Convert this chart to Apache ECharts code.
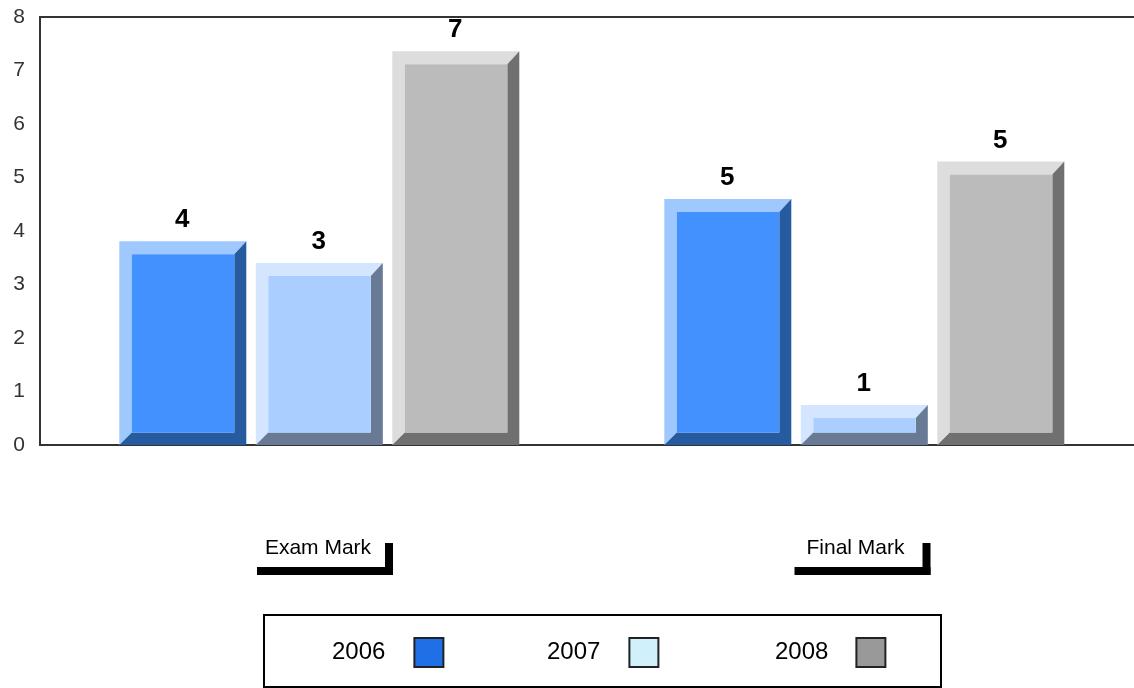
<!DOCTYPE html>
<html><head><meta charset="utf-8">
<style>html,body{margin:0;padding:0;background:#fff}#c{width:1134px;height:688px}</style>
<script src="https://cdn.jsdelivr.net/npm/echarts@6/dist/echarts.min.js"></script>
</head><body><div id="c"></div>
<script>
const categories = ['Exam Mark', 'Final Mark'];
const years = ['2006', '2007', '2008'];
const values2006 = [3.81, 4.6];
const values2007 = [3.4, 0.75];
const values2008 = [7.36, 5.3];
const labels2006 = ['4', '5'];
const labels2007 = ['3', '1'];
const labels2008 = ['7', '5'];
const yTicks = [0, 1, 2, 3, 4, 5, 6, 7, 8];

const FONT = '"Liberation Sans", Arial, sans-serif';
const faces = [
  { front: '#4291FF', light: '#9FC8FF', dark: '#275B9F' },
  { front: '#AACEFF', light: '#D4E6FF', dark: '#687A96' },
  { front: '#BBBBBB', light: '#DDDDDD', dark: '#707070' }
];
const legendFill = ['#1F6FE6', '#D0F0FC', '#999999'];
const groupShift = [5.8, 3.8];
const barStep = 136.5, barWidth = 127, bevel = 12.5;

function barSeries(name, idx, values, labels) {
  const f = faces[idx];
  return {
    type: 'custom', name, xAxisIndex: 0, yAxisIndex: 0,
    itemStyle: { color: legendFill[idx] },
    data: values.map((v, i) => [i, v, labels[i]]),
    encode: { x: 0, y: 1 },
    clip: false,
    renderItem(params, api) {
      const i = api.value(0);
      const top = api.coord([i, api.value(1)])[1];
      const base = api.coord([i, 0])[1];
      const cx = api.coord([i, 0])[0] + groupShift[i] + (idx - 1) * barStep;
      const l = cx - barWidth / 2, r = cx + barWidth / 2;
      const il = l + bevel, ir = r - bevel + 0.5, it = top + bevel + 0.5, ib = base - bevel;
      const poly = (pts, fill) => ({ type: 'polygon', shape: { points: pts }, style: { fill } });
      return {
        type: 'group',
        children: [
          poly([[l, top], [r, top], [ir, it], [il, it], [il, ib], [l, base]], f.light),
          poly([[r, top], [r, base], [l, base], [il, ib], [ir, ib], [ir, it]], f.dark),
          { type: 'rect', shape: { x: il, y: it, width: ir - il, height: ib - it }, style: { fill: f.front } },
          { type: 'text', x: cx - 0.5, y: top - 8,
            style: { text: String(api.value(2)), fill: '#000', font: 'bold 26px ' + FONT, align: 'center', verticalAlign: 'bottom' } }
        ]
      };
    }
  };
}

const labelCenter = [4.5, -5];
const categorySeries = {
  type: 'custom', name: 'categories', silent: true, clip: false,
  data: categories.map((c, i) => [i, 0]),
  encode: { x: 0, y: 1 },
  renderItem(params, api) {
    const i = api.value(0);
    const cx = api.coord([i, 0])[0] + labelCenter[i];
    const R = cx + 67, L = cx - 61;
    return {
      type: 'group',
      children: [
        { type: 'rect', shape: { x: L, y: 567, width: R + 8 - L, height: 8 }, style: { fill: '#000' } },
        { type: 'rect', shape: { x: R, y: 543, width: 8, height: 32 }, style: { fill: '#000' } },
        { type: 'text', x: cx, y: 548,
          style: { text: categories[i], fill: '#000', font: '21px ' + FONT, align: 'center', verticalAlign: 'middle' } }
      ]
    };
  }
};

const legendLeft = [332, 547, 775];
const legendGap = [24, 24, 23];
const chart = echarts.init(document.getElementById('c'), null, { renderer: 'canvas' });
chart.setOption({
  animation: false,
  backgroundColor: '#fff',
  grid: { left: 40, right: 0, top: 17, bottom: 243, containLabel: false },
  xAxis: [
    { type: 'category', data: categories, position: 'bottom',
      axisLine: { lineStyle: { color: '#333', width: 2 } }, axisTick: { show: false }, axisLabel: { show: false } },
    { type: 'category', data: categories, position: 'top',
      axisLine: { lineStyle: { color: '#333', width: 2 } }, axisTick: { show: false }, axisLabel: { show: false } }
  ],
  yAxis: {
    type: 'value', min: yTicks[0], max: yTicks[yTicks.length - 1], interval: 1,
    axisLine: { show: true, lineStyle: { color: '#333', width: 2 } }, axisTick: { show: false },
    splitLine: { show: false },
    axisLabel: { color: '#333', fontFamily: FONT, fontSize: 21, margin: 15, showMinLabel: true, showMaxLabel: true }
  },
  legend: years.map((y, i) => ({
    show: true, data: [{ name: y, itemStyle: { color: legendFill[i], borderColor: '#222', borderWidth: 2 } }],
    left: legendLeft[i], top: 637, align: 'right', orient: 'horizontal',
    itemWidth: 29, itemHeight: 29, icon: 'rect', padding: 0, selectedMode: false,
    textStyle: { color: '#000', fontFamily: FONT, fontSize: 24, padding: [2, legendGap[i], 0, 0] }
  })),
  graphic: [{ type: 'rect', shape: { x: 264, y: 615, width: 677, height: 72 },
    style: { fill: 'none', stroke: '#000', lineWidth: 2 }, z: 0 }],
  series: [
    barSeries(years[0], 0, values2006, labels2006),
    barSeries(years[1], 1, values2007, labels2007),
    barSeries(years[2], 2, values2008, labels2008),
    categorySeries
  ]
});
</script></body></html>
